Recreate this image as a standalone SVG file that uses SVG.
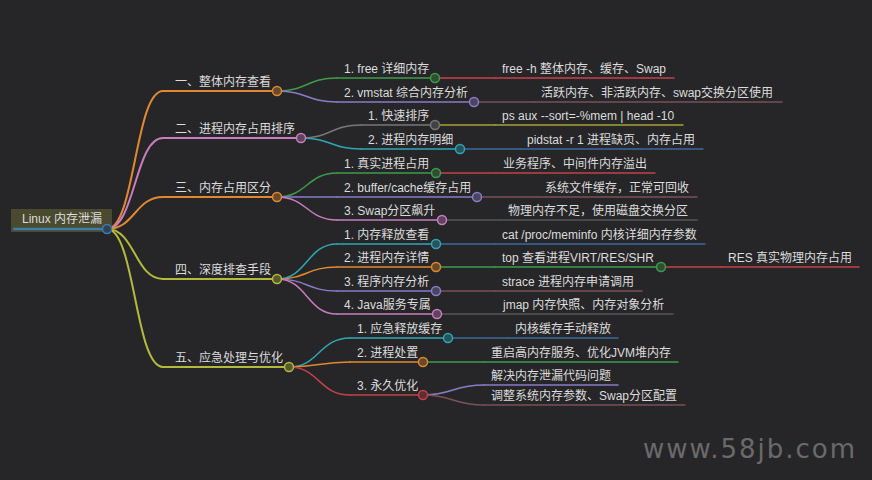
<svg xmlns="http://www.w3.org/2000/svg" width="872" height="480" viewBox="0 0 872 480">
<style>
.t{font-family:"Liberation Sans","Noto Sans CJK SC",sans-serif;font-size:12px;fill:#dcdcdc}
.wm{font-family:"DejaVu Sans","Open Sans",sans-serif;font-size:26px;fill:#6a6a6a}
path,line{fill:none;stroke-width:1.5;stroke-linecap:round}
.l1{stroke-width:2}
circle{stroke-width:1.5}
.or{stroke:#e0892f}.pk{stroke:#c97dbf}.yg{stroke:#b3ba3c}.bl{stroke:#3f7cab}
.gr{stroke:#3f9b4a}.pu{stroke:#8b7bc6}.gy{stroke:#777777}.te{stroke:#2fa6b6}
.rd{stroke:#c4404a}.br{stroke:#7a5256}.dg{stroke:#555558}.ol{stroke:#a5a332}.db{stroke:#3a6a9c}
circle.or{fill:#67492b}circle.pk{fill:#5f445d}circle.yg{fill:#575a2f}circle.bl{fill:#2f4456}
circle.gr{fill:#2f4f34}circle.pu{fill:#49445f}circle.gy{fill:#424243}circle.te{fill:#29535a}circle.rd{fill:#5d2f34}
</style>
<rect width="872" height="480" fill="#262628"/>
<g id="connectors">
<path class="l1 or" d="M107,229 C135,229 135,91 163,91"/>
<path class="l1 pk" d="M107,229 C135,229 135,138 163,138"/>
<path class="l1 or" d="M107,229 C135,229 135,197 163,197"/>
<path class="l1 yg" d="M107,229 C135,229 135,279 163,279"/>
<path class="l1 yg" d="M107,229 C135,229 135,367 163,367"/>
<path class="gr" d="M277,91 C307,91 307,78 337,78"/>
<path class="pu" d="M277,91 C307,91 307,102 337,102"/>
<path class="gy" d="M301,138 C331,138 331,125 361,125"/>
<path class="te" d="M301,138 C331,138 331,149 361,149"/>
<path class="gr" d="M277,197 C307,197 307,173 337,173"/>
<path class="pu" d="M277,197 L337,197"/>
<path class="pk" d="M277,197 C307,197 307,220 337,220"/>
<path class="te" d="M277,279 C307,279 307,244 337,244"/>
<path class="or" d="M277,279 C307,279 307,267 337,267"/>
<path class="pu" d="M277,279 C307,279 307,291 337,291"/>
<path class="pk" d="M277,279 C307,279 307,314 337,314"/>
<path class="te" d="M289,367 C319,367 319,338 350,338"/>
<path class="or" d="M289,367 C319,367 319,362 350,362"/>
<path class="rd" d="M289,367 C319,367 319,395 350,395"/>
<path class="rd" d="M435,78 L495,78"/>
<path class="br" d="M474,102 L534,102"/>
<path class="ol" d="M435,125 L495,125"/>
<path class="db" d="M460,149 L520,149"/>
<path class="rd" d="M436,173 L496,173"/>
<path class="br" d="M477,197 L538,197"/>
<path class="dg" d="M442,220 L501,220"/>
<path class="db" d="M436,244 L495,244"/>
<path class="gr" d="M436,267 L495,267"/>
<path class="rd" d="M661,267 L721,267"/>
<path class="br" d="M436,291 L495,291"/>
<path class="dg" d="M437,314 L496,314"/>
<path class="db" d="M448,338 L508,338"/>
<path class="gr" d="M423,362 L484,362"/>
<path class="pu" d="M423,395 C453,395 453,385 484,385"/>
<path class="br" d="M423,395 C453,395 453,405 484,405"/>
</g>
<g id="root">
<rect x="11" y="209" width="101" height="23" fill="#4a4a30"/>
<text class="t" x="62" y="223" text-anchor="middle">Linux 内存泄漏</text>
<line class="bl" x1="14" y1="229" x2="107" y2="229" style="stroke-width:2.5"/>
<circle class="bl" cx="107" cy="229" r="4.5"/>
</g>
<g id="b1"><text class="t" x="175" y="86">一、整体内存查看</text><line class="l1 or" x1="163" y1="91" x2="277" y2="91"/><circle class="or" cx="277" cy="91" r="4.5"/></g>
<g id="b2"><text class="t" x="175" y="133">二、进程内存占用排序</text><line class="l1 pk" x1="163" y1="138" x2="301" y2="138"/><circle class="pk" cx="301" cy="138" r="4.5"/></g>
<g id="b3"><text class="t" x="175" y="192">三、内存占用区分</text><line class="l1 or" x1="163" y1="197" x2="277" y2="197"/><circle class="or" cx="277" cy="197" r="4.5"/></g>
<g id="b4"><text class="t" x="175" y="274">四、深度排查手段</text><line class="l1 yg" x1="163" y1="279" x2="277" y2="279"/><circle class="yg" cx="277" cy="279" r="4.5"/></g>
<g id="b5"><text class="t" x="175" y="362">五、应急处理与优化</text><line class="l1 yg" x1="163" y1="367" x2="289" y2="367"/><circle class="yg" cx="289" cy="367" r="4.5"/></g>
<g id="n11"><text class="t" x="344" y="73">1. free 详细内存</text><line class="gr" x1="337" y1="78" x2="435" y2="78"/><circle class="gr" cx="435" cy="78" r="4.5"/></g>
<g id="n12"><text class="t" x="344" y="97">2. vmstat 综合内存分析</text><line class="pu" x1="337" y1="102" x2="474" y2="102"/><circle class="pu" cx="474" cy="102" r="4.5"/></g>
<g id="n21"><text class="t" x="368" y="120">1. 快速排序</text><line class="gy" x1="361" y1="125" x2="435" y2="125"/><circle class="gy" cx="435" cy="125" r="4.5"/></g>
<g id="n22"><text class="t" x="368" y="144">2. 进程内存明细</text><line class="te" x1="361" y1="149" x2="460" y2="149"/><circle class="te" cx="460" cy="149" r="4.5"/></g>
<g id="n31"><text class="t" x="344" y="168">1. 真实进程占用</text><line class="gr" x1="337" y1="173" x2="436" y2="173"/><circle class="gr" cx="436" cy="173" r="4.5"/></g>
<g id="n32"><text class="t" x="344" y="192">2. buffer/cache缓存占用</text><line class="pu" x1="337" y1="197" x2="477" y2="197"/><circle class="pu" cx="477" cy="197" r="4.5"/></g>
<g id="n33"><text class="t" x="344" y="215">3. Swap分区飙升</text><line class="pk" x1="337" y1="220" x2="442" y2="220"/><circle class="pk" cx="442" cy="220" r="4.5"/></g>
<g id="n41"><text class="t" x="344" y="239">1. 内存释放查看</text><line class="te" x1="337" y1="244" x2="436" y2="244"/><circle class="te" cx="436" cy="244" r="4.5"/></g>
<g id="n42"><text class="t" x="344" y="262">2. 进程内存详情</text><line class="or" x1="337" y1="267" x2="436" y2="267"/><circle class="or" cx="436" cy="267" r="4.5"/></g>
<g id="n43"><text class="t" x="344" y="286">3. 程序内存分析</text><line class="pu" x1="337" y1="291" x2="436" y2="291"/><circle class="pu" cx="436" cy="291" r="4.5"/></g>
<g id="n44"><text class="t" x="344" y="309">4. Java服务专属</text><line class="pk" x1="337" y1="314" x2="437" y2="314"/><circle class="pk" cx="437" cy="314" r="4.5"/></g>
<g id="n51"><text class="t" x="357" y="333">1. 应急释放缓存</text><line class="te" x1="350" y1="338" x2="448" y2="338"/><circle class="te" cx="448" cy="338" r="4.5"/></g>
<g id="n52"><text class="t" x="357" y="357">2. 进程处置</text><line class="or" x1="350" y1="362" x2="423" y2="362"/><circle class="or" cx="423" cy="362" r="4.5"/></g>
<g id="n53"><text class="t" x="357" y="390">3. 永久优化</text><line class="rd" x1="350" y1="395" x2="423" y2="395"/><circle class="rd" cx="423" cy="395" r="4.5"/></g>
<g id="l11"><text class="t" x="502" y="73">free -h 整体内存、缓存、Swap</text><line class="rd" x1="495" y1="78" x2="674" y2="78"/></g>
<g id="l12"><text class="t" x="541" y="97">活跃内存、非活跃内存、swap交换分区使用</text><line class="br" x1="534" y1="102" x2="782" y2="102"/></g>
<g id="l21"><text class="t" x="502" y="120">ps aux --sort=-%mem | head -10</text><line class="ol" x1="495" y1="125" x2="683" y2="125"/></g>
<g id="l22"><text class="t" x="527" y="144">pidstat -r 1 进程缺页、内存占用</text><line class="db" x1="520" y1="149" x2="703" y2="149"/></g>
<g id="l31"><text class="t" x="503" y="168">业务程序、中间件内存溢出</text><line class="rd" x1="496" y1="173" x2="655" y2="173"/></g>
<g id="l32"><text class="t" x="545" y="192">系统文件缓存，正常可回收</text><line class="br" x1="538" y1="197" x2="697" y2="197"/></g>
<g id="l33"><text class="t" x="508" y="215">物理内存不足，使用磁盘交换分区</text><line class="dg" x1="501" y1="220" x2="697" y2="220"/></g>
<g id="l41"><text class="t" x="502" y="239">cat /proc/meminfo 内核详细内存参数</text><line class="db" x1="495" y1="244" x2="705" y2="244"/></g>
<g id="l42"><text class="t" x="502" y="262">top 查看进程VIRT/RES/SHR</text><line class="gr" x1="495" y1="267" x2="661" y2="267"/><circle class="gr" cx="661" cy="267" r="4.5"/></g>
<g id="l421"><text class="t" x="728" y="262">RES 真实物理内存占用</text><line class="rd" x1="721" y1="267" x2="859" y2="267"/></g>
<g id="l43"><text class="t" x="502" y="286">strace 进程内存申请调用</text><line class="br" x1="495" y1="291" x2="642" y2="291"/></g>
<g id="l44"><text class="t" x="503" y="309">jmap 内存快照、内存对象分析</text><line class="dg" x1="496" y1="314" x2="673" y2="314"/></g>
<g id="l51"><text class="t" x="515" y="333">内核缓存手动释放</text><line class="db" x1="508" y1="338" x2="618" y2="338"/></g>
<g id="l52"><text class="t" x="491" y="357">重启高内存服务、优化JVM堆内存</text><line class="gr" x1="484" y1="362" x2="678" y2="362"/></g>
<g id="l531"><text class="t" x="491" y="380">解决内存泄漏代码问题</text><line class="pu" x1="484" y1="385" x2="618" y2="385"/></g>
<g id="l532"><text class="t" x="491" y="400">调整系统内存参数、Swap分区配置</text><line class="br" x1="484" y1="405" x2="685" y2="405"/></g>
<text class="wm" x="643" y="458" textLength="212" lengthAdjust="spacing">www.58jb.com</text>
</svg>
